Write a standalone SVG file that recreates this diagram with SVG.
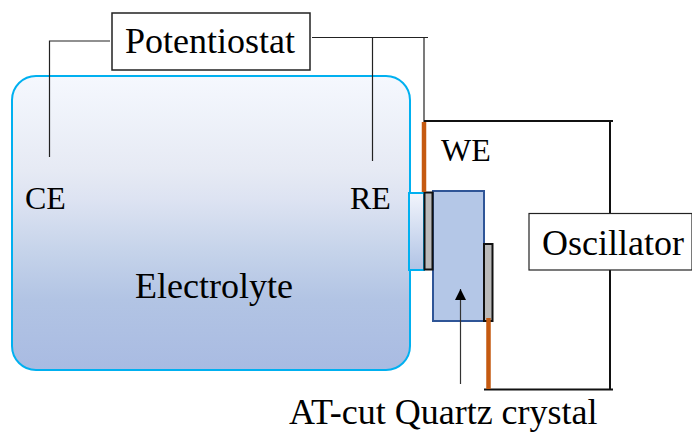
<svg xmlns="http://www.w3.org/2000/svg" width="692" height="432" viewBox="0 0 692 432">
<style>
text{font-family:"Liberation Serif","Times New Roman",serif;fill:#000}
.big{font-size:36px}
.sm{font-size:32px}
.w{fill:none;stroke:#222;stroke-width:1.2}
.k{fill:none;stroke:#111;stroke-width:2}
.cu{fill:none;stroke:#c55a11;stroke-width:4.5}
.gr{fill:#bababa;stroke:#111;stroke-width:2}
</style>
<defs>
<linearGradient id="g" x1="0" y1="0" x2="0" y2="1"><stop offset="0" stop-color="#f5f8fe"/><stop offset="0.32" stop-color="#e6eaf4"/><stop offset="0.42" stop-color="#dde3f2"/><stop offset="0.6" stop-color="#c5d3ea"/><stop offset="0.76" stop-color="#b2c4e4"/><stop offset="1" stop-color="#a9bbe2"/></linearGradient>
<linearGradient id="g2" x1="0" y1="0" x2="0" y2="1"><stop offset="0" stop-color="#f2f5fc"/><stop offset="1" stop-color="#b0c3e5"/></linearGradient>
<marker id="a" markerWidth="11" markerHeight="11" refX="11" refY="5.500" orient="auto" markerUnits="userSpaceOnUse"><path d="M0 0L11 5.500L0 11Z" fill="#000"/></marker>
</defs>
<g id="electrolyte">
<rect x="12" y="76" width="398" height="294" rx="24" fill="url(#g)" stroke="#00b0f0" stroke-width="2"/>
<rect x="409" y="193" width="15" height="77" fill="url(#g2)" stroke="#00b0f0" stroke-width="2"/>
<text x="135" y="298" class="big">Electrolyte</text>
</g>
<g id="crystal">
<rect x="433" y="191" width="51" height="130" fill="#b4c7e7" stroke="#2f5597" stroke-width="2"/>
<rect x="424.500" y="192.500" width="8" height="77" class="gr"/>
<rect x="484" y="244" width="8.500" height="77" class="gr"/>
</g>
<g id="connectors">
<path class="w" d="M110 41H49.500V157"/>
<path class="w" d="M312 37.500H428"/>
<path class="w" d="M372.500 37.500V161"/>
<path class="w" d="M424 37.500V122"/>
<path class="k" d="M424 121H610"/>
<path class="k" d="M610 122V214"/>
<path class="k" d="M610 270V389"/>
<path class="k" d="M484 389.500H613"/>
<path class="k" d="M607 121H613"/>
<path class="cu" d="M424 122V192"/>
<path class="cu" d="M488.500 318V389"/>
<path d="M460.500 384V289" fill="none" stroke="#333" stroke-width="1.2" marker-end="url(#a)"/>
</g>
<g id="potentiostat">
<rect x="112" y="13" width="198" height="57" fill="#fff" stroke="#222" stroke-width="1.500"/>
<text x="125" y="53" class="big">Potentiostat</text>
</g>
<g id="oscillator">
<rect x="529" y="213.500" width="163" height="56.500" fill="#fff" stroke="#222" stroke-width="1.200"/>
<text x="542" y="255" class="big">Oscillator</text>
</g>
<g id="labels">
<text x="25" y="208.500" class="sm">CE</text>
<text x="350" y="208.500" class="sm">RE</text>
<text x="441" y="161" class="sm">WE</text>
<text x="289" y="424" class="big">AT-cut Quartz crystal</text>
</g>
</svg>
